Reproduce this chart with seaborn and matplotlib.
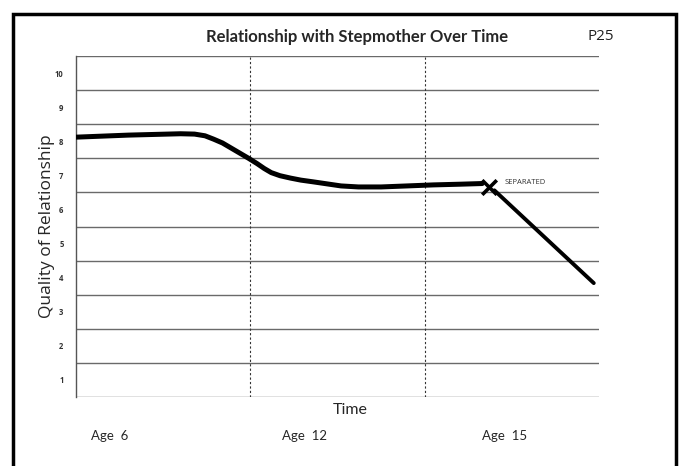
import matplotlib.pyplot as plt
import matplotlib.patches as mpatches
import pandas as pd
import seaborn as sns

# values (time runs 0..3, one unit per panel)
time_before = [0.0, 0.15, 0.3, 0.45, 0.6, 0.68, 0.74, 0.79, 0.84, 0.89, 0.94, 0.99,
               1.04, 1.08, 1.12, 1.17, 1.23, 1.29, 1.36, 1.44, 1.52, 1.62, 1.75,
               1.9, 2.05, 2.2, 2.33]
quality_before = [8.12, 8.15, 8.18, 8.2, 8.22, 8.21, 8.16, 8.06, 7.95, 7.8, 7.65, 7.5,
                  7.34, 7.2, 7.08, 6.99, 6.92, 6.86, 6.81, 6.75, 6.69, 6.66, 6.66,
                  6.69, 6.72, 6.74, 6.76]
time_after = [2.4, 2.97]
quality_after = [6.56, 3.84]
sep_time = [2.37]
sep_quality = [6.66]
y_ticks = [1, 2, 3, 4, 5, 6, 7, 8, 9, 10]
panel_edges = [1, 2]
age_labels = ["Age  6", "Age  12", "Age  15"]

sns.set_style("white")
plt.rcParams['font.family'] = ['Open Sans', 'DejaVu Sans']

fig = plt.figure(figsize=(6.86, 4.66), dpi=100)
ax = fig.add_axes([76 / 686, 69 / 466, 523 / 686, 341 / 466])

# ruled lines of the worksheet
for y in [v + 0.5 for v in [0] + y_ticks]:
    ax.axhline(y, color="#6a6a6a", lw=1.0, zorder=1)
for x in panel_edges:
    ax.axvline(x, color="#333333", lw=0.8, ls=(0, (2, 2)), zorder=1)

before = pd.DataFrame({"time": time_before, "quality": quality_before})
after = pd.DataFrame({"time": time_after, "quality": quality_after})
sns.lineplot(data=before, x="time", y="quality", color="black", lw=3.6,
             ax=ax, zorder=3, sort=False)
sns.lineplot(data=after, x="time", y="quality", color="black", lw=2.8,
             ax=ax, zorder=3, sort=False)
sns.scatterplot(x=sep_time, y=sep_quality, marker="x", s=110, color="black",
                linewidth=2.6, ax=ax, zorder=4)
ax.text(2.46, 6.78, "SEPARATED", fontsize=5.5, color="#333333",
        ha="left", va="center")

ax.set_xlim(0, 3)
ax.set_ylim(0.5, 10.5)
ax.set_yticks(y_ticks)
ax.set_yticklabels([str(t) for t in y_ticks], fontsize=5.5,
                   fontweight="bold", color="#333333")
ax.tick_params(axis="y", length=0, pad=9)
ax.set_xticks([])
ax.set_xlabel("")
ax.set_ylabel("Quality of Relationship", fontsize=12.5, labelpad=0)
for side in ["top", "right", "bottom"]:
    ax.spines[side].set_visible(False)
ax.spines["left"].set_color("#555555")
ax.spines["left"].set_linewidth(1.0)

fig.text(357 / 686, 1 - 37 / 466, "Relationship with Stepmother Over Time",
         fontsize=12, fontweight="bold", ha="center", va="center",
         family=["Lato", "DejaVu Sans"])
fig.text(601 / 686, 1 - 36 / 466, "P25", fontsize=11, ha="center",
         va="center", color="#222222")
fig.text(350 / 686, 1 - 410 / 466, "Time", fontsize=11.5, ha="center",
         va="center", family=["Lato", "DejaVu Sans"])
for xp, lab in zip([110, 305, 505], age_labels):
    fig.text(xp / 686, 1 - 436 / 466, lab, fontsize=9.5, ha="center",
             va="center", family=["Lato", "DejaVu Sans"])

# outer frame of the scan
fig.patches.append(mpatches.Rectangle((13 / 686, -0.05), 663 / 686,
                                      1.05 - 14 / 466, transform=fig.transFigure,
                                      fill=False, lw=2.5, edgecolor="black"))

fig.savefig("out.png", dpi=100)
